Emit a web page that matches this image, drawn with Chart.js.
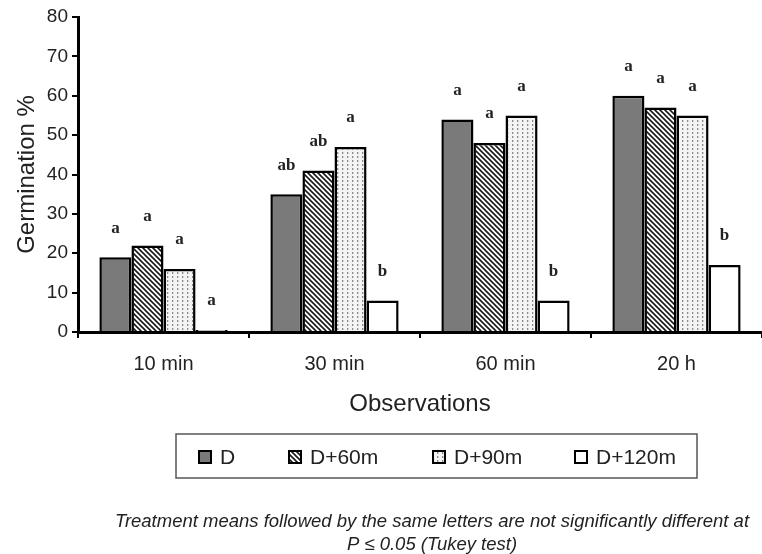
<!DOCTYPE html>
<html>
<head>
<meta charset="utf-8">
<script src="https://cdn.jsdelivr.net/npm/chart.js@4"></script>
<style>
  html, body { margin: 0; padding: 0; background: #fff; }
  #wrap { width: 762px; height: 554px; }
</style>
</head>
<body>
<div id="wrap"><canvas id="germ-chart" width="762" height="554"></canvas></div>
<script>
// data
const categories = ['10 min', '30 min', '60 min', '20 h'];
const seriesNames = ['D', 'D+60m', 'D+90m', 'D+120m'];
const valuesD    = [19, 35, 54, 60];
const valuesD60  = [22, 41, 48, 57];
const valuesD90  = [16, 47, 55, 55];
const valuesD120 = [0.5, 8, 8, 17];
const lettersD    = ['a', 'ab', 'a', 'a'];
const lettersD60  = ['a', 'ab', 'a', 'a'];
const lettersD90  = ['a', 'a', 'a', 'a'];
const lettersD120 = ['a', 'b', 'b', 'b'];
const yTicks = [0, 10, 20, 30, 40, 50, 60, 70, 80];
const captionLines = [
    'Treatment means followed by the same letters are not significantly different at',
    'P \u2264 0.05 (Tukey test)'
];

const sans = '"Liberation Sans", Arial, sans-serif';
const textColor = '#222';

function hatchPattern() {
    const c = document.createElement('canvas');
    c.width = 5; c.height = 5;
    const g = c.getContext('2d');
    g.fillStyle = '#fff';
    g.fillRect(0, 0, 5, 5);
    g.strokeStyle = '#1a1a1a';
    g.lineWidth = 1.6;
    g.beginPath();
    g.moveTo(-1, -1); g.lineTo(6, 6);
    g.moveTo(-1, 4); g.lineTo(1, 6);
    g.moveTo(4, -1); g.lineTo(6, 1);
    g.stroke();
    return g.createPattern(c, 'repeat');
}

function dotPattern() {
    const c = document.createElement('canvas');
    c.width = 5; c.height = 4;
    const g = c.getContext('2d');
    g.fillStyle = '#f4f4f4';
    g.fillRect(0, 0, 5, 4);
    g.fillStyle = '#8a8a8a';
    g.fillRect(2, 0, 1.3, 2);
    return g.createPattern(c, 'repeat');
}

const fills = ['#7a7a7a', hatchPattern(), dotPattern(), '#ffffff'];
const seriesValues = [valuesD, valuesD60, valuesD90, valuesD120];
const seriesLetters = [lettersD, lettersD60, lettersD90, lettersD120];

const letterPlugin = {
    id: 'letters',
    afterDatasetsDraw(chart) {
        const ctx = chart.ctx;
        ctx.save();
        ctx.font = 'bold 17px "Liberation Serif", "Times New Roman", serif';
        ctx.fillStyle = textColor;
        ctx.textAlign = 'center';
        ctx.textBaseline = 'middle';
        chart.data.datasets.forEach((ds, i) => {
            chart.getDatasetMeta(i).data.forEach((bar, j) => {
                ctx.fillText(seriesLetters[i][j], bar.x, bar.y - 29);
            });
        });
        ctx.restore();
    }
};

// legend in a framed box plus the footnote, as in the figure
const legendBoxPlugin = {
    id: 'legendBox',
    afterDraw(chart) {
        const ctx = chart.ctx;
        ctx.save();
        ctx.strokeStyle = '#555';
        ctx.lineWidth = 1.5;
        ctx.strokeRect(176, 434, 521, 44);

        const swatchX = [199, 289, 433, 575];
        ctx.font = '21px ' + sans;
        ctx.textBaseline = 'middle';
        ctx.textAlign = 'left';
        chart.data.datasets.forEach((ds, i) => {
            ctx.fillStyle = ds.backgroundColor;
            ctx.fillRect(swatchX[i], 451, 12, 12);
            ctx.strokeStyle = '#000';
            ctx.lineWidth = 2;
            ctx.strokeRect(swatchX[i], 451, 12, 12);
            ctx.fillStyle = textColor;
            ctx.fillText(ds.label, swatchX[i] + 21, 458);
        });

        ctx.font = 'italic 18.5px ' + sans;
        ctx.textAlign = 'center';
        ctx.fillText(captionLines[0], 432, 522);
        ctx.fillText(captionLines[1], 432, 545);
        ctx.restore();
    }
};

const ctx = document.getElementById('germ-chart').getContext('2d');
const germChart = new Chart(ctx, {
    type: 'bar',
    data: {
        labels: categories,
        datasets: seriesNames.map((name, i) => ({
            label: name,
            data: seriesValues[i],
            backgroundColor: fills[i],
            borderColor: '#000',
            borderWidth: 2.5,
            borderSkipped: 'bottom'
        }))
    },
    options: {
        responsive: false,
        animation: false,
        devicePixelRatio: 1,
        layout: { padding: { top: 17, left: 0, right: 0, bottom: 134 } },
        datasets: {
            bar: { barPercentage: 1, categoryPercentage: 0.75 }
        },
        plugins: {
            legend: { display: false },
            tooltip: { enabled: false }
        },
        scales: {
            x: {
                grid: {
                    display: true,
                    drawOnChartArea: false,
                    offset: true,
                    color: '#000',
                    lineWidth: 2,
                    tickLength: 6
                },
                border: { display: true, color: '#000', width: 3 },
                ticks: { color: textColor, font: { family: sans, size: 20 }, padding: 14 },
                title: {
                    display: true,
                    text: 'Observations',
                    color: textColor,
                    font: { family: sans, size: 24 },
                    padding: { top: 4, bottom: 1 }
                },
                afterFit(scale) { scale.height = 88; }
            },
            y: {
                min: 0,
                max: 80,
                afterBuildTicks(scale) { scale.ticks = yTicks.map(v => ({ value: v })); },
                grid: {
                    display: true,
                    drawOnChartArea: false,
                    color: '#000',
                    lineWidth: 2,
                    tickLength: 6
                },
                border: { display: true, color: '#000', width: 3 },
                ticks: { color: textColor, font: { family: sans, size: 19 }, padding: 4 },
                title: {
                    display: true,
                    text: 'Germination %',
                    color: textColor,
                    font: { family: sans, size: 24 },
                    padding: { top: 13, bottom: 0 }
                },
                afterFit(scale) { scale.width = 78; }
            }
        }
    },
    plugins: [letterPlugin, legendBoxPlugin]
});
</script>
</body>
</html>
